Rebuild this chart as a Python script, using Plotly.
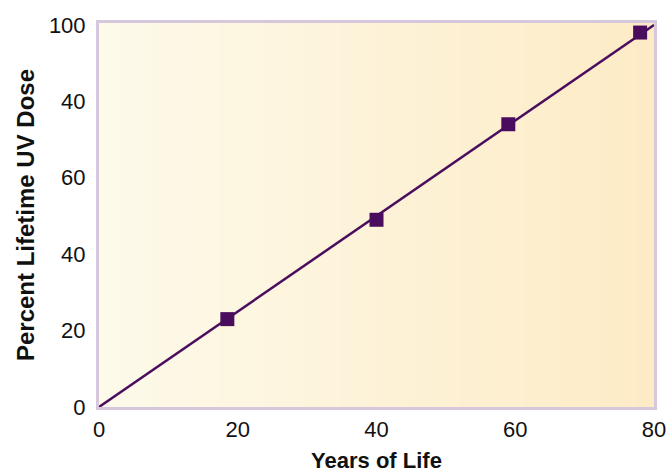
import plotly.graph_objects as go

# Data
years = [18.5, 40, 59, 78]
uv_dose = [23, 49, 74, 98]
fit_years = [0, 80]
fit_dose = [0, 100]

x_tickvals = [0, 20, 40, 60, 80]
x_ticktext = ["0", "20", "40", "60", "80"]
y_tickvals = [0, 20, 40, 60, 80, 100]
y_ticktext = ["0", "20", "40", "60", "40", "100"]

purple = "#4a0d5e"
border = "#d6c7dd"

fig = go.Figure()

fig.add_trace(go.Scatter(
    x=fit_years, y=fit_dose, mode="lines",
    line=dict(color=purple, width=2.5), hoverinfo="skip", showlegend=False,
))
fig.add_trace(go.Scatter(
    x=years, y=uv_dose, mode="markers",
    marker=dict(symbol="square", size=14, color=purple, line=dict(width=0)),
    showlegend=False,
))

# horizontal gradient background
n = 60
c0 = (253, 250, 234)
c1 = (253, 235, 198)
for i in range(n):
    t = i / (n - 1)
    col = tuple(round(a + (b - a) * t) for a, b in zip(c0, c1))
    fig.add_shape(type="rect", xref="x domain", yref="y domain",
                  x0=i / n, x1=(i + 1) / n + 0.002, y0=0, y1=1,
                  fillcolor="rgb(%d,%d,%d)" % col, line=dict(width=0),
                  layer="below")

font_fam = "Liberation Sans, Arial, sans-serif"

fig.update_layout(
    width=666, height=474,
    margin=dict(l=99, r=12, t=23, b=67),
    paper_bgcolor="white", plot_bgcolor="white",
    font=dict(family=font_fam, color="#111111", size=22),
    xaxis=dict(
        range=[0, 80], tickvals=x_tickvals, ticktext=x_ticktext,
        showgrid=False, zeroline=False, showline=True, mirror=True,
        linecolor=border, linewidth=3, ticks="", ticklabelstandoff=1,
        ticklabeloverflow="allow", automargin=False,
        title=dict(text="<b>Years of Life</b>", standoff=12,
                   font=dict(size=22, family=font_fam)),
    ),
    yaxis=dict(
        range=[0, 100.5], tickvals=y_tickvals, ticktext=y_ticktext,
        showgrid=False, zeroline=False, showline=True, mirror=True,
        linecolor=border, linewidth=3, ticks="", ticklabelstandoff=6,
        ticklabeloverflow="allow", automargin=False,
        title=dict(text="<b>Percent Lifetime UV Dose</b>", standoff=8,
                   font=dict(size=24, family=font_fam)),
    ),
)

fig.write_html("out.html", config={"displayModeBar": False},
               post_script="document.body.style.margin='0';document.body.style.overflow='hidden';")
